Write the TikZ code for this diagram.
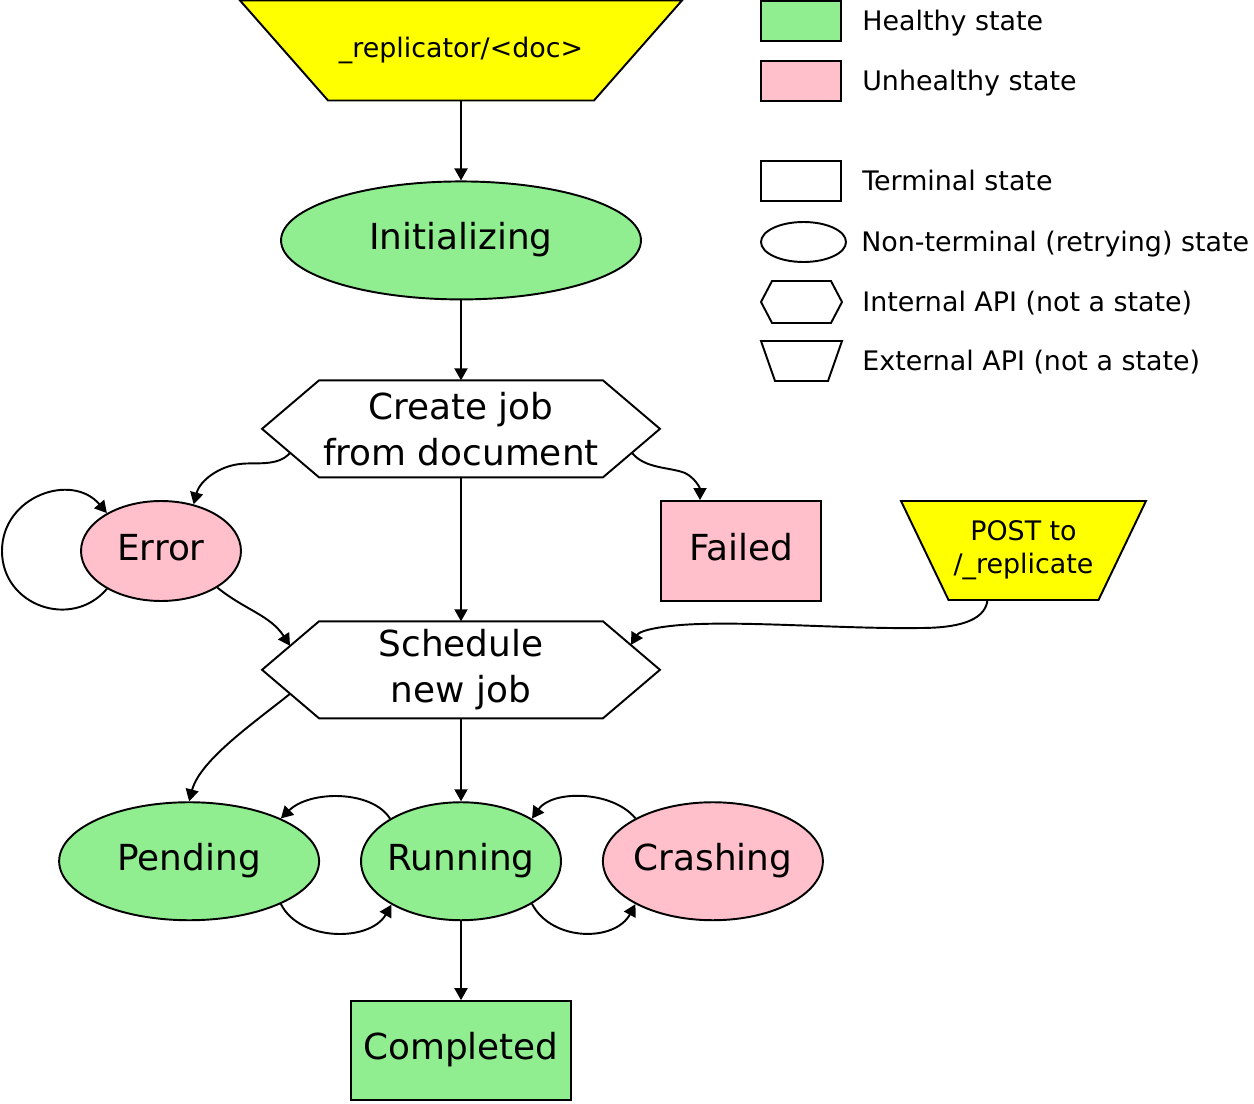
\documentclass[tikz,border=0pt]{standalone}
\usepackage{fontspec}
\setmainfont{DejaVu Sans}
\usetikzlibrary{shapes.geometric, arrows.meta, positioning}

\definecolor{healthy}{HTML}{90EE90}
\definecolor{unhealthy}{HTML}{FFC0CB}
\definecolor{external}{HTML}{FFFF00}

\pgfdeclarelayer{background}
\pgfsetlayers{background,main}

\newcommand{\statefont}{\fontsize{20.4}{26.4}\selectfont}
\newcommand{\notefont}{\fontsize{15.3}{19}\selectfont}

% outlines drawn round a plain node
\newcommand{\hexagonof}[3]{%
	\draw[line width=1.1pt, fill=#3] (#1.west) -- ([xshift=#2]#1.north west)
		-- ([xshift=-#2]#1.north east) -- (#1.east)
		-- ([xshift=-#2]#1.south east) -- ([xshift=#2]#1.south west) -- cycle;}
\newcommand{\trapezoidof}[3]{%
	\draw[line width=1.1pt, fill=#3] (#1.north west) -- (#1.north east)
		-- ([xshift=-#2]#1.south east) -- ([xshift=#2]#1.south west) -- cycle;}

\begin{document}
\begin{tikzpicture}[
			x=0.02cm, y=-0.02cm,
			state/.style={
				ellipse,
				draw,
				line width=1.1pt,
				inner sep=-3pt,
				text height=15.5pt,
				text depth=4.9pt,
				font=\statefont
			},
			terminal/.style={
				rectangle,
				draw,
				line width=1.1pt,
				inner sep=0pt,
				text height=15.5pt,
				text depth=4.9pt,
				font=\statefont
			},
			api/.style={
				rectangle,
				inner sep=0pt,
				outer sep=0pt,
				align=center
			},
			arrow/.style={
				-{Triangle[length=2.4mm, width=2.6mm]},
				line width=1.1pt
			},
			key/.style={
				rectangle,
				draw,
				line width=1.1pt,
				minimum width=1.6cm,
				minimum height=0.8cm
			},
			keytext/.style={
				inner sep=0pt,
				text height=11.2pt,
				text depth=0pt,
				font=\notefont
			}
			]
			
			\useasboundingbox (0,0) rectangle (1254,1104);
			
			% External entry point (top)
			\node[api, minimum width=8.84cm, minimum height=2cm, font=\notefont] (repl) at (461,50.5) {\_replicator/\textless doc\textgreater};
			
			% Main chain
			\node[state, fill=healthy, minimum width=7.2cm, minimum height=2.36cm, below=1.6cm of repl] (init) {Initializing};
			\node[api, minimum width=7.96cm, minimum height=1.94cm, font=\statefont, below=1.6cm of init] (create) {Create job\\from document};
			\node[api, minimum width=7.96cm, minimum height=1.94cm, font=\statefont, below=2.88cm of create] (sched) {Schedule\\new job};
			\node[state, fill=healthy, minimum width=4cm, minimum height=2.36cm, below=1.66cm of sched] (running) {Running};
			\node[state, fill=healthy, minimum width=5.2cm, minimum height=2.36cm, left=0.8cm of running] (pending) {Pending};
			\node[state, fill=unhealthy, minimum width=4.4cm, minimum height=2.36cm, right=0.8cm of running] (crashing) {Crashing};
			\node[terminal, fill=healthy, minimum width=4.4cm, minimum height=1.98cm, below=1.58cm of running] (completed) {Completed};
			
			% Side states
			\node[state, fill=unhealthy, minimum width=3.2cm, minimum height=2cm] (error) at (161,551) {Error};
			\node[terminal, fill=unhealthy, minimum width=3.2cm, minimum height=2cm] (failed) at (741,551) {Failed};
			\node[api, minimum width=4.9cm, minimum height=1.98cm, font=\notefont] (post) at (1023.5,550.5) {POST to\\/\_replicate};
			
			% Legend
			\node[key, fill=healthy] (keyhealthy) at (801,21) {};
			\node[keytext, right=0.4cm of keyhealthy] (txthealthy) {Healthy state};
			\node[key, fill=unhealthy] (keyunhealthy) at (801,81) {};
			\node[keytext, right=0.4cm of keyunhealthy] (txtunhealthy) {Unhealthy state};
			\node[key] (keyterminal) at (801,181) {};
			\node[keytext, right=0.4cm of keyterminal] (txtterminal) {Terminal state};
			\node[key, ellipse, minimum width=1.7cm] (keyretry) at (803.5,242) {};
			\node[keytext, right=0.28cm of keyretry] (txtretry) {Non-terminal (retrying) state};
			\node[api, minimum width=1.62cm, minimum height=0.84cm] (keyinternal) at (801.5,302) {};
			\node[keytext, right=0.4cm of keyinternal] (txtinternal) {Internal API (not a state)};
			\node[api, minimum width=1.62cm, minimum height=0.8cm] (keyexternal) at (801.5,361) {};
			\node[keytext, right=0.4cm of keyexternal] (txtexternal) {External API (not a state)};
			
			% Hexagon and trapezoid outlines behind their text
			\begin{pgfonlayer}{background}
				\trapezoidof{repl}{1.76cm}{external}
				\trapezoidof{post}{0.95cm}{external}
				\hexagonof{create}{1.14cm}{white}
				\hexagonof{sched}{1.14cm}{white}
				\hexagonof{keyinternal}{0.22cm}{white}
				\trapezoidof{keyexternal}{0.28cm}{white}
			\end{pgfonlayer}
			
			% Straight connectors
			\draw[arrow] (repl) -- (init);
			\draw[arrow] (init) -- (create);
			\draw[arrow] (create) -- (sched);
			\draw[arrow] (sched) -- (running);
			\draw[arrow] (running) -- (completed);
			
			% Create job branches
			\draw[arrow] ([shift={(28,24)}]create.west) .. controls (278,467) and (255,462) .. (240,464) .. controls (220,466) and (200,480) .. (error.55);
			\draw[arrow] ([shift={(-28,24)}]create.east) .. controls (645,469) and (670,467) .. (685,473) .. controls (695,478) and (700,488) .. ([xshift=-0.82cm]failed.north);
			
			% Error retries
			\draw[arrow] (error.215) .. controls (72,630) and (2,606) .. (2,551) .. controls (2,496) and (72,472) .. (error.145);
			\draw[arrow] (error.-33) .. controls (245,610) and (270,615) .. ([shift={(28,-24)}]sched.west);
			
			% POST to /_replicate
			\draw[arrow] ([xshift=-0.72cm]post.south) .. controls (985,622) and (955,628) .. (920,628) .. controls (850,629) and (760,622) .. (700,624) .. controls (665,625) and (640,630) .. ([shift={(-29,-25)}]sched.east);
			
			% Schedule to pending
			\draw[arrow] ([shift={(28,24)}]sched.west) .. controls (255,722) and (200,760) .. (pending.north);
			
			% Running loops
			\draw[arrow] (running.149) .. controls (372,790) and (310,790) .. (pending.25);
			\draw[arrow] (pending.-25) .. controls (300,942) and (370,942) .. (running.212);
			\draw[arrow] (crashing.151) .. controls (612,790) and (552,790) .. (running.31);
			\draw[arrow] (running.-31) .. controls (552,942) and (615,942) .. (crashing.209);
			
		\end{tikzpicture}
\end{document}
